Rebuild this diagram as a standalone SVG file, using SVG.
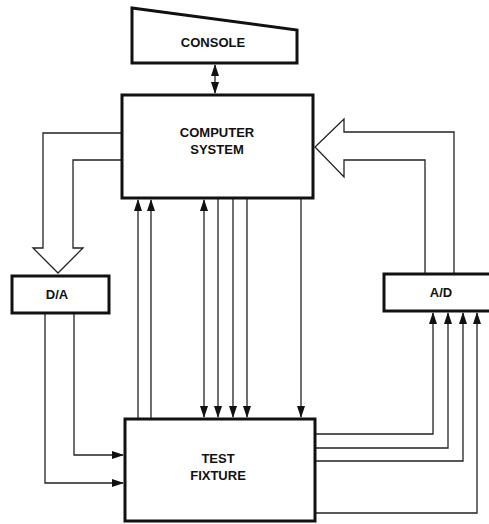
<svg xmlns="http://www.w3.org/2000/svg" width="489" height="524" viewBox="0 0 489 524">
<style>
.box{fill:#fff;stroke:#111;stroke-width:3}
.ln{fill:none;stroke:#222;stroke-width:1.3}
.hollow{fill:#fff;stroke:#222;stroke-width:1.3;stroke-linejoin:miter}
.t{font-family:"Liberation Sans",Arial,sans-serif;font-weight:bold;font-size:13px;fill:#111;text-anchor:middle}
</style>
<defs>
<marker id="ah" markerUnits="userSpaceOnUse" markerWidth="12" markerHeight="8" refX="11" refY="4" orient="auto-start-reverse">
<path d="M0,0 L12,4 L0,8 Z" fill="#111"/>
</marker>
</defs>
<rect width="489" height="524" fill="#fff"/>
<g id="connectors">
<line class="ln" x1="215" y1="65" x2="215" y2="93" marker-start="url(#ah)" marker-end="url(#ah)"/>
<path class="hollow" d="M122,133 H43 V248 H33 L58,273 L83,248 H73 V160 H122"/>
<path class="hollow" d="M454,273 V132 H344 V119 L315,147 L344,177 V160 H425 V273"/>
<path class="ln" d="M45,313 V483 H123" marker-end="url(#ah)"/>
<path class="ln" d="M74,313 V455 H123" marker-end="url(#ah)"/>
<line class="ln" x1="138" y1="419" x2="138" y2="200" marker-end="url(#ah)"/>
<line class="ln" x1="151" y1="419" x2="151" y2="200" marker-end="url(#ah)"/>
<line class="ln" x1="204" y1="200" x2="204" y2="417" marker-start="url(#ah)" marker-end="url(#ah)"/>
<line class="ln" x1="218" y1="198" x2="218" y2="417" marker-end="url(#ah)"/>
<line class="ln" x1="233" y1="198" x2="233" y2="417" marker-end="url(#ah)"/>
<line class="ln" x1="247" y1="198" x2="247" y2="417" marker-end="url(#ah)"/>
<line class="ln" x1="301" y1="198" x2="301" y2="417" marker-end="url(#ah)"/>
<path class="ln" d="M315,434 H433 V313" marker-end="url(#ah)"/>
<path class="ln" d="M315,448 H448 V313" marker-end="url(#ah)"/>
<path class="ln" d="M315,461 H463 V313" marker-end="url(#ah)"/>
<path class="ln" d="M315,513 H477 V313" marker-end="url(#ah)"/>
</g>
<g id="console">
<path class="box" d="M132,8 L297,30 V63 H132 Z"/>
<text class="t" x="213" y="47">CONSOLE</text>
</g>
<g id="computer">
<rect class="box" x="122" y="95" width="191" height="103"/>
<text class="t" x="217" y="137">COMPUTER</text>
<text class="t" x="217" y="154">SYSTEM</text>
</g>
<g id="da">
<rect class="box" x="12" y="276" width="97" height="37"/>
<text class="t" x="57" y="299">D/A</text>
</g>
<g id="ad">
<rect class="box" x="384" y="274" width="110" height="37"/>
<text class="t" x="441" y="297">A/D</text>
</g>
<g id="fixture">
<rect class="box" x="125" y="419" width="190" height="102"/>
<text class="t" x="218" y="463">TEST</text>
<text class="t" x="218" y="480">FIXTURE</text>
</g>
</svg>
